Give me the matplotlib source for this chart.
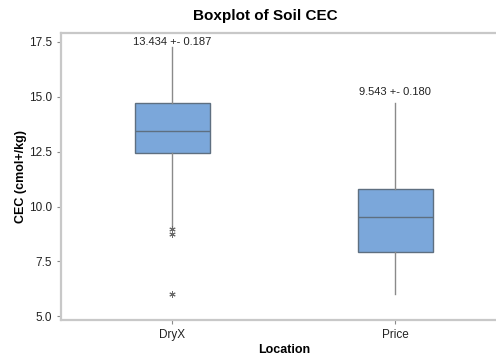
import matplotlib
matplotlib.use("Agg")
from matplotlib import pyplot as plt

plt.rcParams["font.family"] = ["Liberation Sans", "DejaVu Sans"]

# Five-number summaries per location
locations = ["DryX", "Price"]
whisker_low = [9.08, 6.02]
q1 = [12.45, 7.91]
medians = [13.434, 9.543]
q3 = [14.71, 10.80]
whisker_high = [17.26, 14.73]
outliers = [[8.97, 8.76, 6.0], []]
se = [0.187, 0.180]

stats = []
for i, name in enumerate(locations):
    stats.append(dict(label=name, whislo=whisker_low[i], q1=q1[i], med=medians[i],
                      q3=q3[i], whishi=whisker_high[i], fliers=outliers[i]))

fig = plt.figure(figsize=(4.96, 3.58), dpi=100)
ax = fig.add_axes([0.123, 0.105, 0.898, 0.804])

box_edge = "#5e6f80"
ax.bxp(stats, positions=[0, 1], widths=0.337, patch_artist=True, showcaps=False,
       boxprops=dict(facecolor="#7ba7da", edgecolor=box_edge, linewidth=1.0),
       medianprops=dict(color=box_edge, linewidth=1.0),
       whiskerprops=dict(color="#8a8a8a", linewidth=1.0),
       flierprops=dict(marker=(6, 2, 0), markeredgecolor="#6a6a6a", markersize=4.5,
                       markeredgewidth=0.7, linestyle="none"))

for i, name in enumerate(locations):
    y = min(whisker_high[i] + 0.5, 17.5)
    ax.text(i, y, f"{medians[i]:.3f} +- {se[i]:.3f}", ha="center", va="center",
            fontsize=8, color="#222222")

ax.set_xlim(-0.5, 1.5)
ax.set_ylim(4.82, 17.91)
ax.set_yticks([5.0, 7.5, 10.0, 12.5, 15.0, 17.5])
ax.set_yticklabels(["5.0", "7.5", "10.0", "12.5", "15.0", "17.5"])

for side in ["left", "top", "bottom"]:
    ax.spines[side].set_color("#c8c8c8")
    ax.spines[side].set_linewidth(1.6)
ax.spines["right"].set_visible(False)
ax.patch.set_visible(False)
ax.tick_params(axis="both", colors="#8a8a8a", labelcolor="#222222", labelsize=8.5,
               length=3, width=0.8)

ax.set_xlabel("Location", fontsize=9, fontweight="bold", labelpad=2)
ax.set_ylabel("CEC (cmol+/kg)", fontsize=9, fontweight="bold", labelpad=1.5)
fig.text(0.534, 0.955, "Boxplot of Soil CEC", ha="center", va="center",
         fontsize=11, fontweight="bold")

fig.savefig("out.png", dpi=100)
